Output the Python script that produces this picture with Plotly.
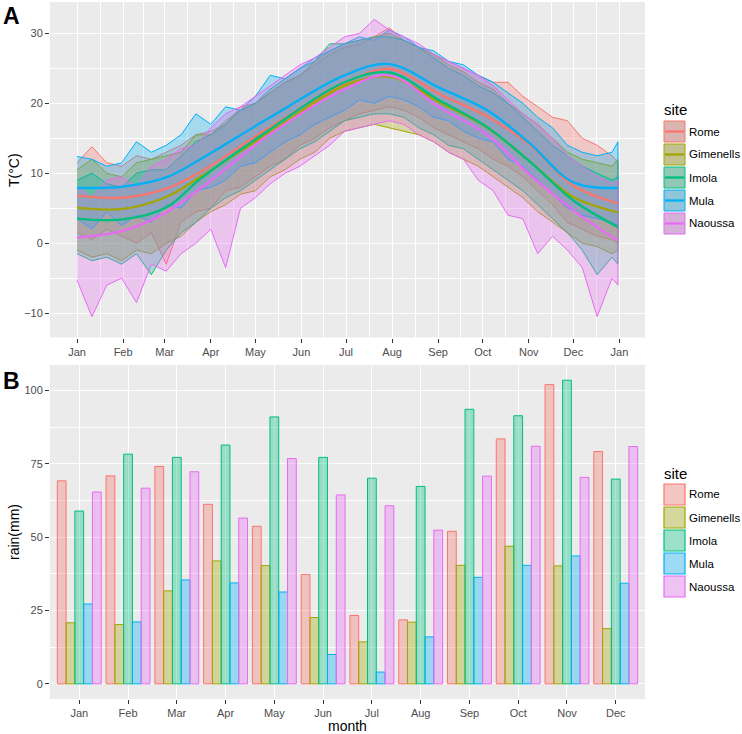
import plotly.graph_objects as go

# ---------------- data ----------------
sites = ["Rome", "Gimenells", "Imola", "Mula", "Naoussa"]

# day of year sample points for daily ribbons (read at ~10 day spacing)
days = [0, 10, 20, 30, 40, 50, 60, 70, 80, 90,
        100, 110, 120, 130, 140, 150, 160, 170, 180, 190,
        200, 210, 220, 230, 240, 250, 260, 270, 280, 290,
        300, 310, 320, 330, 340, 350, 360, 364]

tmax_rome = [11.5, 13.8, 11.5, 11.0, 12.5, 12.0, 13.0, 14.0, 15.5, 16.0,
             17.0, 19.5, 20.0, 21.5, 23.0, 24.0, 25.5, 27.0, 28.0, 28.5,
             29.5, 30.8, 29.0, 28.0, 27.0, 26.0, 25.0, 24.0, 23.0, 23.0,
             21.0, 19.5, 18.0, 17.5, 15.0, 14.0, 12.5, 11.5]
tmin_rome = [1.5, 0.5, 2.0, 1.0, 0.0, 1.5, -3.0, 3.0, 4.5, 5.0,
             7.5, 8.0, 9.5, 11.0, 12.0, 14.0, 15.0, 16.5, 17.5, 18.5,
             19.0, 19.5, 19.0, 18.0, 16.5, 15.5, 14.5, 13.5, 12.0, 11.0,
             9.5, 7.5, 5.5, 3.0, 2.0, 1.0, 0.5, 0.0]
tmax_gim = [10.5, 12.0, 10.0, 9.5, 11.5, 12.0, 12.5, 13.0, 15.5, 15.5,
            17.5, 19.0, 20.0, 21.5, 23.0, 24.0, 26.0, 27.5, 28.5, 29.0,
            29.5, 30.0, 29.0, 28.0, 27.0, 25.5, 24.5, 23.0, 22.0, 20.0,
            18.5, 17.0, 15.0, 13.0, 12.0, 11.5, 11.0, 12.0]
tmin_gim = [-1.0, -2.0, -1.5, -2.5, -1.0, -1.5, 0.0, 1.0, 3.0, 4.5,
            5.5, 7.0, 7.5, 9.5, 10.5, 12.0, 13.0, 15.0, 16.0, 16.5,
            17.0, 16.5, 16.0, 15.5, 14.5, 13.0, 12.0, 11.0, 9.5, 8.0,
            6.5, 4.5, 3.0, 1.5, 0.0, -0.5, -1.5, -1.0]
tmax_imola = [9.0, 10.0, 8.5, 8.0, 10.0, 10.5, 10.5, 12.5, 14.5, 15.5,
              17.0, 19.0, 20.0, 22.0, 23.5, 25.0, 26.0, 28.5, 28.5, 29.0,
              29.5, 29.5, 29.0, 28.0, 26.5, 25.0, 24.0, 22.5, 21.5, 20.0,
              18.0, 16.0, 14.0, 12.5, 11.0, 10.0, 9.0, 9.5]
tmin_imola = [-1.5, -2.5, -2.0, -3.0, -1.5, -4.5, -1.0, 1.5, 3.0, 5.0,
              6.5, 7.5, 9.0, 10.5, 12.0, 13.5, 14.5, 16.0, 17.5, 18.0,
              18.5, 18.5, 18.0, 16.5, 15.5, 14.0, 13.5, 12.0, 10.5, 9.0,
              7.5, 5.5, 3.5, 1.5, -1.0, -4.5, -2.0, -3.0]
tmax_mula = [12.4, 12.0, 11.0, 11.5, 14.5, 13.0, 14.0, 15.5, 18.5, 17.0,
             19.5, 19.0, 21.0, 24.0, 23.5, 25.0, 26.5, 27.5, 28.5, 29.5,
             29.0, 30.5, 29.5, 28.0, 27.5, 26.0, 25.5, 24.0, 23.0, 21.5,
             20.0, 18.0, 16.5, 14.0, 13.0, 12.5, 13.0, 14.5]
tmin_mula = [3.5, 2.0, 4.5, 2.5, 4.0, 3.0, 5.5, 5.0, 7.5, 8.0,
             9.0, 11.0, 11.5, 13.0, 14.5, 15.5, 17.0, 18.0, 19.0, 20.5,
             20.0, 21.0, 20.5, 19.5, 18.0, 17.5, 16.0, 15.0, 14.5, 12.0,
             11.0, 9.0, 7.0, 5.0, 4.0, 3.5, 3.0, 2.5]
tmax_naoussa = [8.0, 6.5, 9.0, 9.5, 8.0, 11.0, 12.0, 13.5, 14.0, 16.5,
                18.5, 19.5, 21.0, 22.5, 24.0, 25.5, 26.5, 28.0, 29.5, 30.0,
                32.0, 30.5, 29.5, 28.5, 27.0, 26.0, 25.0, 24.0, 22.5, 20.5,
                18.5, 17.0, 15.0, 12.5, 11.0, 9.5, 8.5, 9.0]
tmin_naoussa = [-5.3, -10.5, -6.0, -5.0, -8.5, -3.0, -4.0, -1.5, 0.0, 2.0,
                -3.5, 5.0, 6.5, 8.5, 10.0, 11.0, 12.5, 14.0, 16.0, 16.5,
                17.0, 17.5, 17.0, 15.5, 14.5, 13.0, 12.0, 9.0, 7.5, 4.0,
                3.5, -1.5, 1.0, -1.0, -3.5, -10.5, -5.0, -6.0]

# smoothed mean temperature, read at anchor days
smooth_days = [0, 31, 60, 83, 130, 180, 210, 244, 276, 304, 334, 364]
smooth_rome = [6.8, 6.5, 7.8, 10.2, 16.6, 22.8, 24.9, 21.3, 18.1, 14.2, 8.2, 5.7]
smooth_gim = [5.1, 4.9, 6.6, 9.5, 15.9, 22.5, 23.8, 20.1, 16.5, 11.8, 6.6, 4.4]
smooth_imola = [3.5, 3.4, 5.1, 9.2, 16.3, 23.0, 24.4, 20.4, 16.6, 11.8, 6.1, 2.3]
smooth_mula = [7.9, 8.1, 9.4, 12.0, 18.0, 24.0, 25.6, 22.2, 19.0, 14.4, 8.7, 7.9]
smooth_naoussa = [0.8, 1.8, 4.4, 7.8, 15.6, 22.0, 24.0, 19.4, 15.5, 9.9, 4.7, 0.4]

month_labels = ["Jan", "Feb", "Mar", "Apr", "May", "Jun",
                "Jul", "Aug", "Sep", "Oct", "Nov", "Dec"]
month_start_days = [0, 31, 59, 90, 120, 151, 181, 212, 243, 273, 304, 334, 365]
month_tick_text = month_labels + ["Jan"]

rain_rome = [69.2, 70.9, 74.1, 61.2, 53.7, 37.3, 23.3, 21.8, 52.0, 83.5, 102.0, 79.2]
rain_gim = [20.8, 20.2, 31.7, 41.9, 40.3, 22.6, 14.3, 21.0, 40.4, 46.9, 40.2, 18.8]
rain_imola = [58.9, 78.3, 77.2, 81.4, 91.0, 77.2, 70.1, 67.3, 93.6, 91.4, 103.5, 69.8]
rain_mula = [27.2, 21.1, 35.4, 34.4, 31.3, 10.0, 4.0, 16.0, 36.3, 40.4, 43.6, 34.3]
rain_naoussa = [65.4, 66.7, 72.3, 56.5, 76.8, 64.4, 60.7, 52.4, 70.8, 81.0, 70.4, 80.9]

# ---------------- styles ----------------
colors = ["#F8766D", "#A3A500", "#00BF7D", "#00B0F6", "#E76BF3"]
tmax_all = [tmax_rome, tmax_gim, tmax_imola, tmax_mula, tmax_naoussa]
tmin_all = [tmin_rome, tmin_gim, tmin_imola, tmin_mula, tmin_naoussa]
smooth_all = [smooth_rome, smooth_gim, smooth_imola, smooth_mula, smooth_naoussa]
rain_all = [rain_rome, rain_gim, rain_imola, rain_mula, rain_naoussa]


def rgba(hexc, a):
    h = hexc.lstrip("#")
    r, g, b = int(h[0:2], 16), int(h[2:4], 16), int(h[4:6], 16)
    return f"rgba({r},{g},{b},{a})"


fig = go.Figure()

# ribbons
for s, c, hi, lo in zip(sites, colors, tmax_all, tmin_all):
    fig.add_trace(go.Scatter(
        x=days + days[::-1], y=hi + lo[::-1], fill="toself",
        fillcolor=rgba(c, 0.3), line=dict(color=c, width=1),
        mode="lines", showlegend=False, hoverinfo="skip",
        xaxis="x", yaxis="y"))

# smooth lines
for s, c, sm in zip(sites, colors, smooth_all):
    fig.add_trace(go.Scatter(
        x=smooth_days, y=sm, mode="lines",
        line=dict(color=c, width=2.3, shape="spline", smoothing=1.0),
        showlegend=False, xaxis="x", yaxis="y"))

# bars
for s, c, r in zip(sites, colors, rain_all):
    fig.add_trace(go.Bar(
        x=month_labels, y=r, name=s,
        marker=dict(color=rgba(c, 0.35), line=dict(color=c, width=1)),
        showlegend=False, xaxis="x2", yaxis="y2"))

# ---------------- layout ----------------
L, R, T, B = 50, 97, 2, 35
W, H = 742, 734
PW, PH = W - L - R, H - T - B


def px(x):
    return (x - L) / PW


def py(y):
    return (H - B - y) / PH


tick_font = dict(family="Liberation Sans, Arial, sans-serif", size=11, color="#4D4D4D")
grid = dict(showgrid=True, gridcolor="white", gridwidth=1.1, zeroline=False,
            showline=False, ticks="outside", ticklen=4, tickwidth=1,
            tickcolor="#333333", tickfont=tick_font, automargin=False)

mid_days = [(a + b) / 2 for a, b in zip(month_start_days[:-1], month_start_days[1:])]

fig.update_layout(
    width=W, height=H, template="none",
    margin=dict(l=L, r=R, t=T, b=B),
    paper_bgcolor="white", plot_bgcolor="#EBEBEB",
    barmode="group", bargap=0.1, bargroupgap=0,
    showlegend=False,
    xaxis=dict(domain=[0, 1], anchor="y", range=[-18.2, 382.2],
               tickmode="array", tickvals=month_start_days, ticktext=month_tick_text,
               minor=dict(tickvals=mid_days, showgrid=True, gridcolor="white",
                          gridwidth=0.55, ticks=""),
               **grid),
    yaxis=dict(domain=[py(337.5), 1], anchor="x", range=[-13.48, 34.48],
               tickmode="array", tickvals=[-10, 0, 10, 20, 30],
               minor=dict(tickvals=[-5, 5, 15, 25], showgrid=True,
                          gridcolor="white", gridwidth=0.55, ticks=""),
               **grid),
    xaxis2=dict(domain=[0, 1], anchor="y2", type="category",
                range=[-0.6, 11.6], **grid),
    yaxis2=dict(domain=[0, py(365)], anchor="x2", range=[-5.18, 108.7],
                tickmode="array", tickvals=[0, 25, 50, 75, 100],
                minor=dict(tickvals=[12.5, 37.5, 62.5, 87.5], showgrid=True,
                           gridcolor="white", gridwidth=0.55, ticks=""),
                **grid),
)

font_main = "Liberation Sans, Arial, sans-serif"


def note(text, x, y, size, angle=0, xanchor="center", bold=False):
    return dict(text=f"<b>{text}</b>" if bold else text, x=px(x), y=py(y),
                xref="paper", yref="paper", xanchor=xanchor, yanchor="middle",
                textangle=angle, showarrow=False,
                font=dict(family=font_main, size=size, color="black"))


ann = [
    note("A", 11, 16, 23, bold=True),
    note("B", 11, 381, 23, bold=True),
    note("T(°C)", 14, 170, 14, angle=-90),
    note("rain(mm)", 14, 532, 14, angle=-90),
    note("month", 347, 726, 14),
]

shapes = []
for title_y, key0, kind in [(110, 121, "ribbon"), (473, 484, "bar")]:
    ann.append(note("site", 662, title_y, 15, xanchor="left"))
    for i, (s, c) in enumerate(zip(sites, colors)):
        y0 = key0 + 23 * i
        y1 = y0 + 21
        if kind == "ribbon":
            shapes.append(dict(type="rect", xref="paper", yref="paper",
                               x0=px(664), x1=px(685), y0=py(y0), y1=py(y1),
                               fillcolor="#CECECE", line=dict(width=0)))
            shapes.append(dict(type="rect", xref="paper", yref="paper",
                               x0=px(664), x1=px(685), y0=py(y0), y1=py(y1),
                               fillcolor=rgba(c, 0.3), line=dict(color=c, width=1)))
            shapes.append(dict(type="line", xref="paper", yref="paper",
                               x0=px(665), x1=px(684), y0=py((y0 + y1) / 2),
                               y1=py((y0 + y1) / 2), line=dict(color=c, width=2.3)))
        else:
            shapes.append(dict(type="rect", xref="paper", yref="paper",
                               x0=px(664), x1=px(685), y0=py(y0), y1=py(y1),
                               fillcolor="#F2F2F2", line=dict(width=0)))
            shapes.append(dict(type="rect", xref="paper", yref="paper",
                               x0=px(664), x1=px(685), y0=py(y0), y1=py(y1),
                               fillcolor=rgba(c, 0.35), line=dict(color=c, width=1.2)))
        ann.append(note(s, 687, (y0 + y1) / 2, 11.5, xanchor="left"))

fig.update_layout(annotations=ann, shapes=shapes)
fig.write_html(
    "out.html",
    config={"displayModeBar": False},
    post_script="document.body.style.margin='0px';document.body.style.padding='0px';",
)
